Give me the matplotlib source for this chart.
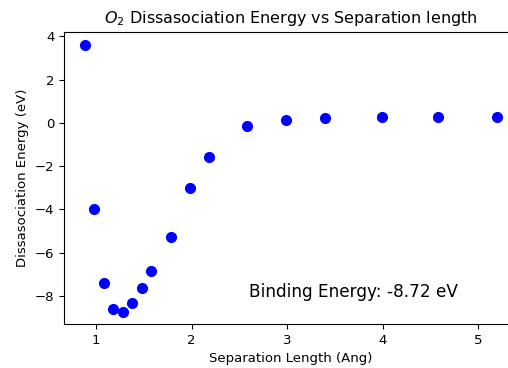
import matplotlib
matplotlib.use("Agg")
import matplotlib.pyplot as plt
from matplotlib.ticker import MultipleLocator

# separation length (Ang) and dissociation energy (eV)
separation = [0.88, 0.98, 1.08, 1.18, 1.28, 1.38, 1.48, 1.58, 1.78, 1.98,
              2.18, 2.58, 2.99, 3.39, 3.99, 4.58, 5.19]
energy = [3.58, -3.96, -7.39, -8.62, -8.72, -8.34, -7.64, -6.85, -5.28, -3.00,
          -1.56, -0.13, 0.13, 0.23, 0.25, 0.26, 0.27]
binding_energy = min(energy)

fig = plt.figure(figsize=(5.08, 3.68), dpi=100)
# the right spine falls just outside the saved image, as in the original
ax = fig.add_axes([0.126, 0.119, 0.892, 0.795])
ax.spines['right'].set_visible(False)

ax.plot(separation, energy, 'bo', markersize=7)
ax.text(2.6, -7.8, f'Binding Energy: {binding_energy:.2f} eV', fontsize=12.2, va='center')

ax.set_xlim(0.665, 5.405)
ax.set_ylim(-9.3, 4.21)
ax.xaxis.set_major_locator(MultipleLocator(1))
ax.set_title(r'$O_2$ Dissasociation Energy vs Separation length', fontsize=11.5)
ax.set_xlabel('Separation Length (Ang)', fontsize=9.5)
ax.set_ylabel('Dissasociation Energy (eV)', fontsize=9.5)
ax.tick_params(labelsize=9.5)

fig.savefig('out.png', dpi=100)
